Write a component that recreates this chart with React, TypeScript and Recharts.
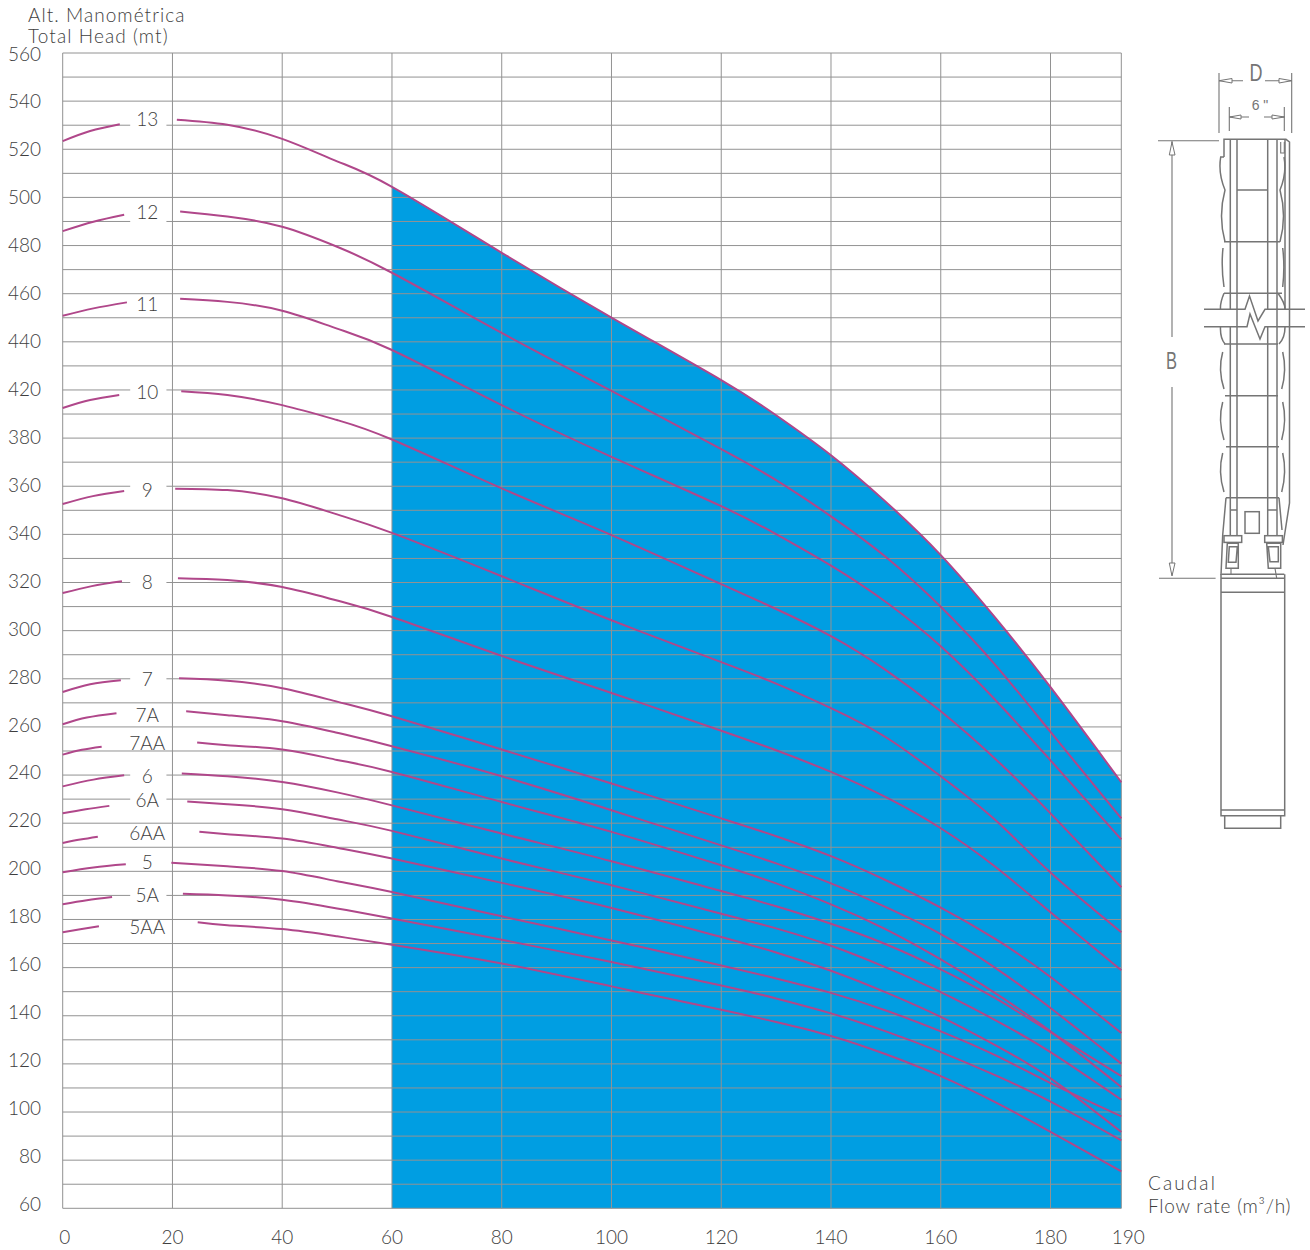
import {
  ComposedChart, Area, Line, XAxis, YAxis, CartesianGrid, ReferenceLine, ReferenceDot,
} from "recharts";

// the drawing's own flow axis: ticks run every 20 and the last one, printed "190", sits past 192
const FLOW_END = 192.9;
const flowTicks = [0, 20, 40, 60, 80, 100, 120, 140, 160, 180, FLOW_END];

// the printed head axis jumps from 380 to 420 (no 400), so heads are kept in grid units:
// equal steps of 10 from 60 to 540, printed through headLabels
const headGrid = [
  60, 70, 80, 90, 100, 110, 120, 130, 140, 150, 160, 170, 180, 190, 200, 210, 220, 230, 240, 250, 260, 270, 280, 290,
  300, 310, 320, 330, 340, 350, 360, 370, 380, 390, 400, 410, 420, 430, 440, 450, 460, 470, 480, 490, 500, 510, 520,
  530, 540,
];
const headLabels: Record<number, string> = {
  60: "60", 80: "80", 100: "100", 120: "120", 140: "140", 160: "160", 180: "180", 200: "200", 220: "220",
  240: "240", 260: "260", 280: "280", 300: "300", 320: "320", 340: "340", 360: "360", 380: "380",
  400: "420", 420: "440", 440: "460", 460: "480", 480: "500", 500: "520", 520: "540", 540: "560",
};

const curveNames = ["13", "12", "11", "10", "9", "8", "7", "7A", "7AA", "6", "6A", "6AA", "5", "5A", "5AA"];

// short piece left of the stage number
const leftFlow = [
  [0, 5, 10.4], [0, 5.6, 11.2], [0, 5.6, 11.7], [0, 5, 10.3], [0, 5.5, 11.2], [0, 5.3, 10.8], [0, 5, 10.6],
  [0, 4.4, 9.8], [0, 3.5, 7.1], [0, 5.6, 11.2], [0, 4.2, 8.5], [0, 3.2, 6.4], [0, 5.6, 11.5], [0, 4.4, 9], [0, 3.2, 6.6],
];
const leftHead = [
  [503.4, 507.6, 510.4], [466, 469.9, 472.8], [430.8, 433.9, 436.4], [392.5, 395.8, 397.9], [352.6, 355.9, 358],
  [315.6, 318.5, 320.5], [274.5, 277.7, 279.4], [261.1, 263.9, 265.7], [248.5, 250.5, 251.8], [235.3, 238.1, 239.9],
  [224.1, 225.8, 227.2], [211.8, 213.2, 214.4], [199.6, 201.6, 202.9], [186.3, 188, 189.3], [174.7, 175.9, 177.2],
];

// long piece right of the stage number: first point at startFlow, the rest at rightFlow
const startFlow = [20.8, 21.4, 21.4, 21.6, 20.5, 21, 21.2, 22.5, 24.5, 21.7, 22.7, 24.9, 19.8, 21.9, 24.6];
const rightFlow = [30, 40, 50, 60, 80, 100, 120, 130, 140, 150, 160, 170, 180, FLOW_END];
const rightHead = [
  [512.3, 510.2, 504.3, 495, 484.4, 457, 430.1, 404.1, 389.5, 372.9, 353.5, 331.4, 305.2, 276.5, 237],
  [474.2, 472.1, 467.8, 459.5, 448.7, 423.7, 399.6, 375.4, 362.5, 347.5, 330.6, 309.9, 285.6, 257.9, 222],
  [437.9, 436.6, 432.9, 425.5, 416.6, 393.7, 372.2, 351.7, 340.1, 327, 311.9, 293.5, 271.1, 246.1, 213.3],
  [399.5, 397.9, 393.7, 387.5, 379.4, 359.1, 339.7, 319.3, 309, 297.7, 283.6, 266.5, 246.6, 224.1, 193.4],
  [359, 358.4, 355, 348.3, 340.6, 322.6, 304.3, 286.9, 278, 267.8, 255.7, 239.5, 221.2, 199.5, 174.7],
  [321.8, 321, 318.1, 312.5, 305.7, 289.5, 274.1, 258.4, 250.3, 241.3, 230.8, 217.9, 201.8, 183, 158.9],
  [280.2, 279.2, 276.1, 270.5, 264.4, 250.6, 236.5, 222, 214.6, 206.3, 196.3, 184.9, 171.8, 156.1, 132.8],
  [266.5, 264.9, 262.4, 257.6, 252, 239.5, 225.4, 210.8, 203.3, 195, 185.1, 173.9, 159.8, 143.2, 120.1],
  [253.5, 252.4, 250.6, 246.3, 241.3, 228.8, 216.4, 202.5, 195, 186.3, 175.9, 163.4, 149.3, 133.5, 110.4],
  [240.7, 239.5, 237.1, 232.8, 227.4, 215.7, 204.2, 191.8, 185.5, 178.2, 169.7, 159.3, 147.2, 133.2, 114.9],
  [229, 227.9, 225.8, 221.6, 216.8, 205.3, 194.2, 182.4, 176.3, 169.1, 160.1, 149.8, 138.1, 124.9, 105.1],
  [216.4, 215.4, 213.6, 209.8, 205.3, 195.2, 184.8, 172.7, 166.3, 158.7, 149.7, 139.5, 127.7, 114, 91.7],
  [203.6, 202.1, 200.1, 195.9, 191.4, 181.3, 171.3, 160.9, 155.5, 149.5, 142.2, 133.5, 123.5, 112, 98.2],
  [190.7, 190, 188.2, 184.6, 180.4, 171.6, 162.3, 152.6, 147.2, 141, 133.5, 124.9, 115.2, 104.3, 88.2],
  [178.8, 177.6, 176, 173, 169.5, 161.7, 152.2, 142.5, 137.4, 131.6, 124, 114.9, 104, 91.8, 75.3],
];

// where each stage number sits, and the gridlines that break around it
const nameFlow = 15.5;
const nameHead = [512.4, 473.6, 435.6, 399.1, 358.1, 320.1, 279.6, 264.9, 253.3, 239.6, 229.3, 215.6, 203.6, 190.1, 176.6];
const brokenGridHeads = [510, 470, 400, 360, 320, 280, 240, 230, 190];

const leftPieces = curveNames.map((_, i) => leftFlow[i].map((flow, j) => ({ flow, head: leftHead[i][j] })));
const rightPieces = curveNames.map((_, i) =>
  [startFlow[i], ...rightFlow].map((flow, j) => ({ flow, head: rightHead[i][j] }))
);
// blue operating range: under the top curve from 60 on
const rangeData = rightPieces[0].filter((p) => p.flow >= 60);

const FONT = "Lato, sans-serif";
const TEXT = "#3e3e3e";
const CURVE = "#b0478a";
const GRID = "#929292";
const DRAW = "#757575";
const NARROW = "'Liberation Sans Narrow', 'Liberation Sans', sans-serif";

function HeadTick({ y, payload }: any) {
  const label = headLabels[payload.value];
  if (!label) return null;
  // printed labels are spaced a little tighter than the grid
  const drift = 1 - ((y - 53) / 1155) * 5;
  return (
    <text x={41} y={y + drift} dy={6.5} textAnchor="end" fontFamily={FONT} fontSize={19} fontWeight={300} fill={TEXT}>
      {label}
    </text>
  );
}

function FlowTick({ x, payload }: any) {
  const v = payload.value;
  const label = v === FLOW_END ? "190" : String(v);
  const shift = v === FLOW_END ? 7 : v === 0 ? 2 : 0;
  return (
    <text x={x + shift} y={1243.5} textAnchor="middle" fontFamily={FONT} fontSize={19} fontWeight={300} fill={TEXT}>
      {label}
    </text>
  );
}

function StageName({ cx, cy, name }: any) {
  return (
    <text x={cx - 0.5} y={cy} dy={6.5} textAnchor="middle" fontFamily={FONT} fontSize={19} fontWeight={300} fill={TEXT}>
      {name}
    </text>
  );
}

// axis titles and the pump outline beside the chart
function PumpDrawing() {
  const s = { fill: "none", stroke: DRAW, strokeWidth: 1.5 };
  const thin = { fill: "none", stroke: DRAW, strokeWidth: 1.1 };
  const arrow = { fill: "#fff", stroke: DRAW, strokeWidth: 1 };
  const title = { fontFamily: FONT, fontSize: 19, fontWeight: 300, fill: TEXT };
  return (
    <svg width={1310} height={1250} style={{ position: "absolute", left: 0, top: 0, pointerEvents: "none" }}>
      <text {...title} x={28} y={22} letterSpacing={1.05}>Alt. Manométrica</text>
      <text {...title} x={28} y={43} letterSpacing={1.1}>Total Head (mt)</text>
      <text {...title} x={1148} y={1190} letterSpacing={2.1}>Caudal</text>
      <text {...title} x={1148} y={1213} letterSpacing={0.75}>Flow rate (m³/h)</text>

      {/* dimensions */}
      <path {...thin} d="M1219 73V133M1291.7 73V133M1229.3 107V131M1284.3 107V131" />
      <path {...thin} d="M1219 80.7H1243M1265 80.7H1291.7M1229.3 117H1249M1264 117H1284.3" />
      <path {...arrow} d="M1219 80.7L1232 78.5V83ZM1291.7 80.7L1279 78.5V83ZM1229.3 117L1241 115V119ZM1284.3 117L1272 115V119Z" />
      <text x={1256} y={81} textAnchor="middle" fontFamily={NARROW} fontSize={24} fill={DRAW} textLength={13} lengthAdjust="spacingAndGlyphs">D</text>
      <text x={1260} y={110} textAnchor="middle" fontFamily="'Liberation Sans', sans-serif" fontSize={14} fill={DRAW}>6 "</text>
      <path {...thin} d="M1158 140.7H1219M1159 578.3H1215.6M1172 141V337M1172 387V575" />
      <path {...arrow} d="M1172 142L1169.3 155H1175ZM1172 576L1169.3 563H1175Z" />
      <text x={1171.5} y={369} textAnchor="middle" fontFamily={NARROW} fontSize={24} fill={DRAW} textLength={11} lengthAdjust="spacingAndGlyphs">B</text>

      {/* column */}
      <path {...s} d="M1224 157V139.3H1286L1289.5 142V503L1283 545" />
      <path {...s} d="M1230.3 139.3V309M1230.3 327V535M1237 139.3V535M1267.7 139.3V309M1267.7 327V535M1277 139.3V535M1285 139.3V309" />
      <path {...s} d="M1237 190H1268M1224 241.7H1280M1224 293.3H1282M1224 344H1278M1225 395.7H1278M1226 446.7H1279M1226 497.7H1279M1230.3 510H1237M1268 510H1277" />
      <path {...s} d="M1224 157L1220.7 157Q1218 173 1225 190Q1218 216 1225 241.7M1223 248Q1221 267 1224 287M1224 293.3Q1220 303 1220.5 309M1220.5 327Q1220 338 1225 344" />
      <path {...s} d="M1222.7 352Q1217.7 370 1224 389M1222.7 402Q1217.7 420 1224 440M1222.7 453Q1217.7 472 1224 492" />
      <path {...s} d="M1284 157Q1287 173 1280 190Q1287 216 1280 241.7M1282.7 248Q1285 267 1282.7 287M1278 293.3Q1285 303 1285 309M1285 327Q1285 338 1279 344" />
      <path {...s} d="M1282.7 352Q1287 370 1281.7 389M1282.7 402Q1287 420 1281.7 440M1282.7 453Q1287 472 1281.7 492" />
      <path {...thin} d="M1280.7 142V153H1284.3V142" />
      <path {...s} d="M1204 309.3H1245L1249.5 296L1258 321L1265 309.3H1305M1204 326.7H1247L1250 314L1260 339L1265 326.7H1305" />

      {/* discharge end */}
      <path {...s} d="M1226 497.7L1222.7 535L1221 575M1279 497.7L1282 530" />
      <rect {...s} x={1245} y={511.7} width={14.3} height={21.6} />
      <rect {...s} x={1224} y={535.7} width={17.7} height={6.7} />
      <rect {...s} x={1264.7} y={535.7} width={17.7} height={6.7} />
      <path {...s} d="M1227.3 543.3H1238.3V568.3H1226Z M1229.3 546.7H1237.3L1236 562.3H1228.3Z" />
      <path {...s} d="M1266.7 543.3H1280.7V568.3H1268.3Z M1268.3 546.7H1278.3V561.7H1270Z" />
      <path {...thin} d="M1231 568.3V574.3M1275 568.3L1276.7 578.3" />

      {/* motor */}
      <path {...s} d="M1221.7 574.3H1284.3M1221 578.3H1284.7M1221 592.3H1284.7M1221 810H1284.7M1221 574.3V815.7H1284.7V574.3" />
      <path {...s} d="M1224.7 816V828.3H1280.7V816" />
    </svg>
  );
}

export default function App() {
  return (
    <div style={{ position: "absolute", left: 0, top: 0, width: 1310, height: 1250, background: "#fff" }}>
      <ComposedChart
        width={1310}
        height={1250}
        data={rangeData}
        margin={{ top: 53, right: 188.7, left: 0, bottom: 0 }}
      >
        <XAxis
          dataKey="flow"
          type="number"
          domain={[0, FLOW_END]}
          ticks={flowTicks}
          interval={0}
          axisLine={false}
          tickLine={false}
          height={41.7}
          tick={<FlowTick />}
        />
        <YAxis
          type="number"
          domain={[60, 540]}
          ticks={headGrid}
          interval={0}
          axisLine={false}
          tickLine={false}
          width={62.7}
          tick={<HeadTick />}
        />
        <Area
          dataKey="head"
          type="natural"
          fill="#009ee2"
          fillOpacity={1}
          stroke="none"
          dot={false}
          activeDot={false}
          isAnimationActive={false}
        />
        <CartesianGrid stroke={GRID} strokeWidth={1} zIndex={150} />
        {brokenGridHeads.map((h) => (
          <ReferenceLine
            key={h}
            segment={[{ x: 12.3, y: h }, { x: 18.9, y: h }]}
            stroke="#fff"
            strokeWidth={3}
            zIndex={160}
          />
        ))}
        {curveNames.map((name, i) => (
          <Line
            key={"l" + name}
            data={leftPieces[i]}
            dataKey="head"
            type="natural"
            stroke={CURVE}
            strokeWidth={2}
            dot={false}
            activeDot={false}
            isAnimationActive={false}
          />
        ))}
        {curveNames.map((name, i) => (
          <Line
            key={"r" + name}
            data={rightPieces[i]}
            dataKey="head"
            type="natural"
            stroke={CURVE}
            strokeWidth={2}
            dot={false}
            activeDot={false}
            isAnimationActive={false}
          />
        ))}
        {curveNames.map((name, i) => (
          <ReferenceDot
            key={"n" + name}
            x={nameFlow}
            y={nameHead[i]}
            r={0}
            shape={(p: any) => <StageName {...p} name={name} />}
          />
        ))}
      </ComposedChart>
      <PumpDrawing />
    </div>
  );
}
